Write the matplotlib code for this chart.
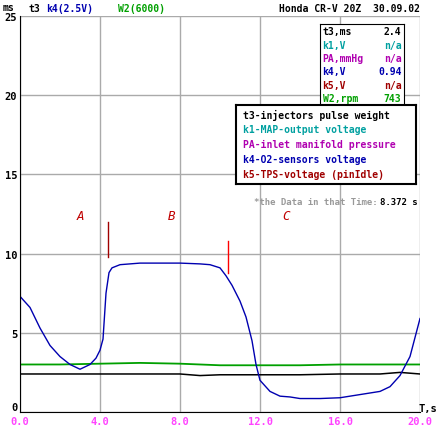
import matplotlib.pyplot as plt
import numpy as np

# k4 - O2 sensor voltage (blue)
t_k4 = [0, 0.5, 1, 1.5, 2, 2.5, 3, 3.5, 3.8, 4, 4.15, 4.3, 4.45, 4.6, 5, 6, 7, 8, 9, 9.5, 10, 10.3, 10.6, 11, 11.3, 11.6, 11.8, 12, 12.5, 13, 13.5, 14, 15, 16, 17, 18, 18.5, 19, 19.5, 20]
k4 = [7.3, 6.6, 5.3, 4.2, 3.5, 3.0, 2.7, 3.0, 3.4, 3.9, 4.6, 7.5, 8.8, 9.1, 9.3, 9.4, 9.4, 9.4, 9.35, 9.3, 9.1, 8.6, 8.0, 7.0, 6.0, 4.5, 3.0, 2.0, 1.3, 1.0, 0.95, 0.85, 0.85, 0.9, 1.1, 1.3, 1.6, 2.3, 3.5, 5.9]
# W2 rpm (green) and t3 (black)
t_flat = [0, 2, 4, 6, 8, 9, 10, 12, 14, 16, 18, 19, 20]
w2 = [3.0, 3.0, 3.05, 3.1, 3.05, 3.0, 2.95, 2.95, 2.95, 3.0, 3.0, 3.0, 3.0]
t3 = [2.4, 2.4, 2.4, 2.4, 2.4, 2.3, 2.35, 2.35, 2.35, 2.4, 2.4, 2.5, 2.4]

plt.rcParams['font.family'] = 'DejaVu Sans Mono'
fig = plt.figure(figsize=(4.44, 4.35), dpi=100)
ax = fig.add_axes([20/444, 22/435, 400/444, 396/435])

ax.plot(t_flat, w2, color='#00a000', lw=1.3)
ax.plot(t_flat, t3, color='black', lw=1.1)
ax.plot(t_k4, k4, color='#0000b0', lw=1)

ax.set_xlim(0, 20)
ax.set_ylim(0, 25)
ax.set_xticks(np.arange(0, 21, 4))
ax.set_yticks([0, 5, 10, 15, 20, 25])
ax.set_xticklabels(['%.1f' % v for v in np.arange(0, 21, 4)], color='#ff44ff', fontweight='bold', fontsize=7.5)
ax.set_yticklabels(['0', '5', '10', '15', '20', '25'], fontweight='bold', fontsize=7.5)
ax.tick_params(axis='x', length=0, pad=3)
ax.tick_params(axis='y', length=0, pad=2)
ax.get_yticklabels()[0].set_va('bottom')
ax.grid(color='#aaaaaa', lw=1)
for s in ['top', 'right']:
    ax.spines[s].set_visible(False)

ax.plot([4.4, 4.4], [9.8, 12], color='#a00000', lw=1)
ax.plot([10.4, 10.4], [8.8, 10.8], color='red', lw=1)
for x, s in [(3.0, 'A'), (7.6, 'B'), (13.3, 'C')]:
    ax.text(x, 12.2, s, color='#c00000', style='italic', fontsize=9, ha='center')

fig.text(0.005, 0.975, 'ms', fontsize=7, fontweight='bold')
fig.text(0.065, 0.972, 't3', fontsize=7, fontweight='bold', ha='left')
fig.text(0.105, 0.972, 'k4(2.5V)', fontsize=7, color='#0000b0', fontweight='bold')
fig.text(0.265, 0.972, 'W2(6000)', fontsize=7, color='#00a000', fontweight='bold')
fig.text(0.945, 0.972, 'Honda CR-V 20Z  30.09.02', fontsize=7, fontweight='bold', ha='right')
fig.text(0.942, 0.052, 'T,s', fontsize=7.5, fontweight='bold')

rows = [('t3,ms', '2.4', 'black'), ('k1,V', 'n/a', '#00a0a0'), ('PA,mmHg', 'n/a', '#b000b0'),
        ('k4,V', '0.94', '#0000b0'), ('k5,V', 'n/a', '#a00000'), ('W2,rpm', '743', '#00a000')]
bx = ax.inset_axes([15.0, 19.4, 4.2, 5.1], transform=ax.transData)
bx.set_xticks([]); bx.set_yticks([])
for i, (a, b, c) in enumerate(rows):
    y = 0.91 - i * 0.165
    bx.text(0.03, y, a, color=c, fontsize=7, fontweight='bold', va='center', transform=bx.transAxes)
    bx.text(0.97, y, b, color=c, fontsize=7, fontweight='bold', va='center', ha='right', transform=bx.transAxes)

leg = ['t3-injectors pulse weight', 'k1-MAP-output voltage', 'PA-inlet manifold pressure',
       'k4-O2-sensors voltage', 'k5-TPS-voltage (pinIdle)']
legc = ['black', '#00a0a0', '#b000b0', '#0000b0', '#a00000']
lx = ax.inset_axes([10.8, 14.4, 9.0, 5.0], transform=ax.transData)
lx.set_xticks([]); lx.set_yticks([])
for s in lx.spines.values():
    s.set_linewidth(1.5)
for i, (s, c) in enumerate(zip(leg, legc)):
    lx.text(0.04, 0.88 - i * 0.19, s, color=c, fontsize=7, fontweight='bold', va='center', transform=lx.transAxes)

ax.text(17.9, 13.3, '*the Data in that Time:', color='#999999', fontsize=6.5, fontweight='bold', ha='right', va='center')
ax.text(19.9, 13.3, '8.372 s', fontsize=6.5, fontweight='bold', ha='right', va='center')

fig.savefig('out.png')
